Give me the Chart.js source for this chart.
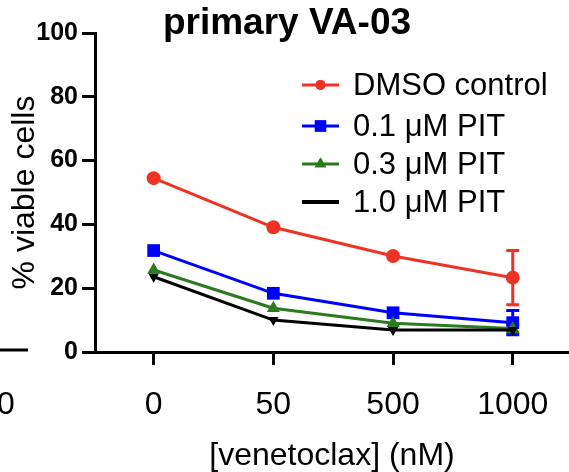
<!DOCTYPE html>
<html>
<head>
<meta charset="utf-8">
<script src="https://cdn.jsdelivr.net/npm/chart.js@4/dist/chart.umd.min.js"></script>
<style>
  html, body { margin: 0; padding: 0; background: #fff; overflow: hidden; width: 569px; height: 472px; }
  canvas { display: block; }
</style>
</head>
<body>
<canvas id="c" width="578" height="472"></canvas>
<script>
// ---- data ----
const categories = ["0", "50", "500", "1000"];
const seriesNames = ["DMSO control", "0.1 \u03bcM PIT", "0.3 \u03bcM PIT", "1.0 \u03bcM PIT"];
const dmso   = [54.5, 39.1, 30.1, 23.3];
const pit01  = [31.8, 18.4, 12.3, 9.2];
const pit03  = [25.7, 13.7, 9.0, 7.4];
const pit10  = [23.6, 10.0, 6.9, 6.9];
const dmsoErr  = [0, 0, 0, 8.5];
const pit01Err = [0, 0, 0, 3.8];
const pit03Err = [0, 0, 0, 1.2];
const pit10Err = [0, 0, 0, 0];
const yTicks = [0, 20, 40, 60, 80, 100];

const colors = ["#EE3324", "#0000FF", "#2A7A1E", "#000000"];
const FONT = "'Liberation Sans', Arial, Helvetica, sans-serif";

function pts(arr) { return arr.map((v, i) => ({ x: i, y: v })); }

const seriesVals = [dmso, pit01, pit03, pit10];
const seriesErr = [dmsoErr, pit01Err, pit03Err, pit10Err];
const styles = [
  { pointStyle: 'circle', radius: 7, rotation: 0 },
  { pointStyle: 'rect', radius: 9, rotation: 0 },
  { pointStyle: 'triangle', radius: 7.5, rotation: 0 },
  { pointStyle: 'triangle', radius: 6, rotation: 180 }
];

const datasets = [3, 2, 1, 0].map(i => ({
  label: seriesNames[i],
  data: pts(seriesVals[i]),
  err: seriesErr[i],
  borderColor: colors[i],
  backgroundColor: colors[i],
  borderWidth: 3,
  pointStyle: styles[i].pointStyle,
  pointRadius: styles[i].radius,
  pointRotation: styles[i].rotation,
  pointBorderWidth: 0,
  pointBackgroundColor: colors[i],
  tension: 0
}));

const errorBars = {
  id: 'errorBars',
  beforeDatasetsDraw(chart) {
    const ctx = chart.ctx;
    const ys = chart.scales.y, xs = chart.scales.x;
    chart.data.datasets.forEach(ds => {
      ds.data.forEach((p, i) => {
        const e = ds.err[i];
        if (!e) return;
        const x = xs.getPixelForValue(p.x);
        const y1 = ys.getPixelForValue(p.y + e);
        const y2 = ys.getPixelForValue(p.y - e);
        ctx.save();
        ctx.strokeStyle = ds.borderColor;
        ctx.lineWidth = 3;
        ctx.beginPath();
        ctx.moveTo(x, y1); ctx.lineTo(x, y2);
        ctx.moveTo(x - 6.5, y1); ctx.lineTo(x + 6.5, y1);
        ctx.moveTo(x - 6.5, y2); ctx.lineTo(x + 6.5, y2);
        ctx.stroke();
        ctx.restore();
      });
    });
  }
};

const decor = {
  id: 'decor',
  afterDraw(chart) {
    const ctx = chart.ctx;
    ctx.save();
    // title
    ctx.fillStyle = '#000';
    ctx.font = "bold 37px " + FONT;
    ctx.textAlign = 'center';
    ctx.textBaseline = 'alphabetic';
    ctx.fillText("primary VA-03", 287, 34);
    // legend
    const rows = [85, 126, 164, 202];
    for (let i = 0; i < 4; i++) {
      const y = rows[i];
      ctx.strokeStyle = colors[i];
      ctx.lineWidth = i === 3 ? 4 : 3;
      ctx.beginPath();
      ctx.moveTo(302, y); ctx.lineTo(339, y);
      ctx.stroke();
      if (i < 3) {
        ctx.fillStyle = colors[i];
        const st = [{ pointStyle: 'circle', radius: 5 }, { pointStyle: 'rect', radius: 8 }, { pointStyle: 'triangle', radius: 6.5 }][i];
        Chart.helpers.drawPoint(ctx, { pointStyle: st.pointStyle, radius: st.radius, rotation: 0, borderWidth: 0 }, 320.5, y);
        ctx.fill();
      }
      ctx.fillStyle = '#000';
      ctx.font = "31px " + FONT;
      ctx.textAlign = 'left';
      ctx.textBaseline = 'middle';
      ctx.fillText(seriesNames[i], 353, y + 1);
    }
    // fragment of neighbouring panel at far left
    ctx.strokeStyle = '#000';
    ctx.lineWidth = 3;
    ctx.beginPath();
    ctx.moveTo(0, 350); ctx.lineTo(28, 350);
    ctx.stroke();
    ctx.fillStyle = '#000';
    ctx.font = "32px " + FONT;
    ctx.textAlign = 'center';
    ctx.textBaseline = 'alphabetic';
    ctx.fillText("0", 6, 414);
    ctx.restore();
  }
};

new Chart(document.getElementById('c'), {
  type: 'line',
  data: { datasets },
  options: {
    responsive: false,
    animation: false,
    devicePixelRatio: 1,
    layout: { padding: { top: 33, right: 0, bottom: 0, left: 0 } },
    plugins: { legend: { display: false }, tooltip: { enabled: false } },
    scales: {
      x: {
        type: 'linear',
        min: -0.49,
        max: 3.47,
        afterFit(s) { s.height = 120; },
        afterBuildTicks(s) { s.ticks = categories.map((c, i) => ({ value: i })); },
        ticks: {
          callback: v => categories[v],
          color: '#000',
          font: { family: FONT, size: 32 },
          padding: 21,
          maxRotation: 0,
          autoSkip: false
        },
        grid: { display: true, drawOnChartArea: false, drawTicks: true, tickLength: 13, color: '#000', lineWidth: 3 },
        border: { display: true, color: '#000', width: 3 },
        title: {
          display: true,
          text: '[venetoclax] (nM)',
          color: '#000',
          font: { family: FONT, size: 32, lineHeight: 1.0 },
          padding: { top: 0, bottom: 0 }
        }
      },
      y: {
        min: 0,
        max: 100,
        afterFit(s) { s.width = 95; },
        afterBuildTicks(s) { s.ticks = yTicks.map(v => ({ value: v })); },
        ticks: {
          color: '#000',
          font: { family: FONT, size: 25, weight: 'bold' },
          padding: 4
        },
        grid: { display: true, drawOnChartArea: false, drawTicks: true, tickLength: 13, color: '#000', lineWidth: 3 },
        border: { display: true, color: '#000', width: 3 },
        title: {
          display: true,
          text: '% viable cells',
          color: '#000',
          font: { family: FONT, size: 32, lineHeight: 1.2 },
          padding: { top: 6, bottom: 0 }
        }
      }
    }
  },
  plugins: [errorBars, decor]
});
</script>
</body>
</html>
